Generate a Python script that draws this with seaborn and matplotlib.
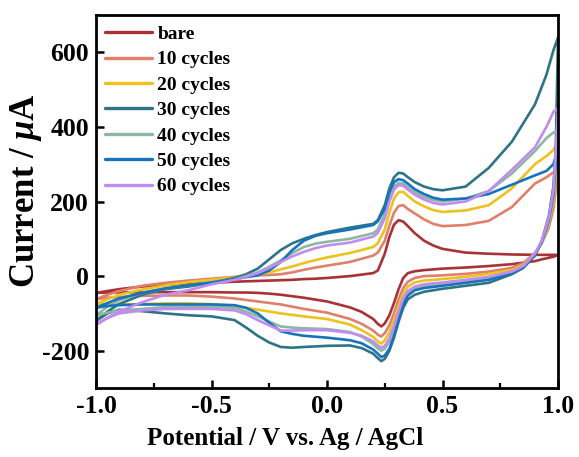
import numpy as np
import pandas as pd
import matplotlib
matplotlib.use("Agg")
import matplotlib.pyplot as plt
import seaborn as sns

# ---------------- data ----------------
x_fwd = [-1.0, -0.95, -0.9, -0.8, -0.7, -0.6, -0.5, -0.4, -0.35, -0.3, -0.25, -0.2,
         -0.15, -0.1, -0.05, 0.0, 0.1, 0.2, 0.22, 0.25, 0.27, 0.29, 0.31, 0.33, 0.35,
         0.38, 0.42, 0.46, 0.5, 0.6, 0.7, 0.8, 0.9, 0.95, 0.98, 1.0]
x_rev = [1.0, 0.99, 0.98, 0.96, 0.93, 0.9, 0.85, 0.8, 0.7, 0.6, 0.5, 0.42, 0.38, 0.35,
         0.33, 0.31, 0.29, 0.27, 0.25, 0.235, 0.22, 0.2, 0.15, 0.1, 0.0, -0.1, -0.15,
         -0.2, -0.25, -0.3, -0.35, -0.4, -0.5, -0.6, -0.7, -0.8, -0.9, -0.95, -1.0]

labels = ["bare", "10 cycles", "20 cycles", "30 cycles", "40 cycles", "50 cycles", "60 cycles"]
colors = ["#A83236", "#E0806A", "#EBC21E", "#2E7386", "#8DB7A0", "#1673BC", "#C08CF2"]

bare_fwd = [-45, -40, -35, -28, -24, -21, -18, -15, -14, -13, -12, -11, -10, -8, -7, -5,
            0, 8, 15, 60, 105, 138, 150, 146, 134, 115, 95, 82, 73, 63, 60, 58, 57, 57, 57, 57]
bare_rev = [57, 54, 52, 49, 45, 40, 36, 32, 27, 23, 20, 16, 13, 8, -5, -35, -72, -105,
            -127, -135, -128, -115, -96, -84, -68, -58, -54, -50, -47, -45, -44, -44,
            -43, -43, -43, -43, -44, -44, -45]

c10_fwd = [-62, -50, -40, -26, -18, -12, -7, -2, 0, 2, 3, 5, 10, 17, 23, 28,
           38, 55, 63, 95, 135, 170, 188, 190, 180, 168, 152, 140, 134, 137, 148, 185,
           248, 265, 278, 295]
c10_rev = [295, 230, 180, 130, 88, 62, 35, 22, 12, 6, 2, 0, -5, -15, -32, -62, -100,
           -132, -153, -162, -157, -146, -128, -115, -98, -88, -82, -76, -72, -68, -64,
           -60, -55, -52, -52, -53, -56, -58, -62]

c20_fwd = [-75, -62, -50, -36, -25, -16, -10, -3, 0, 5, 10, 18, 26, 35, 43, 50,
           62, 78, 88, 125, 170, 208, 225, 226, 215, 200, 187, 177, 172, 176, 190, 235,
           300, 322, 338, 360]
c20_rev = [360, 270, 200, 140, 90, 60, 30, 16, 6, -2, -8, -12, -17, -28, -48, -80, -118,
           -152, -172, -181, -175, -163, -145, -130, -115, -108, -104, -100, -95, -90,
           -85, -80, -75, -73, -73, -75, -76, -75, -75]

c30_fwd = [-120, -95, -75, -50, -35, -28, -18, -5, 5, 20, 45, 70, 88, 100, 110, 118,
           130, 140, 150, 190, 235, 265, 277, 275, 265, 252, 240, 233, 230, 240, 290, 360,
           460, 540, 605, 640]
c30_rev = [640, 330, 240, 160, 95, 55, 22, 5, -18, -26, -34, -42, -50, -62, -85, -122,
           -165, -200, -222, -228, -220, -208, -193, -186, -187, -190, -192, -190, -178,
           -160, -138, -118, -108, -105, -100, -94, -90, -100, -120]

c40_fwd = [-105, -82, -65, -45, -33, -25, -17, -8, 0, 10, 25, 42, 62, 78, 87, 92,
           100, 115, 125, 165, 210, 240, 250, 248, 238, 225, 212, 204, 200, 208, 228, 275,
           335, 370, 385, 390]
c40_rev = [390, 290, 210, 145, 92, 58, 26, 10, -4, -12, -20, -26, -33, -45, -65, -100,
           -140, -175, -195, -200, -194, -182, -162, -150, -142, -140, -138, -135, -122,
           -108, -95, -85, -82, -82, -83, -88, -92, -98, -105]

c50_fwd = [-85, -72, -60, -45, -33, -25, -17, -8, -3, 2, 15, 38, 70, 95, 108, 115,
           125, 137, 147, 180, 225, 252, 260, 257, 248, 233, 220, 210, 205, 208, 220, 245,
           270, 282, 300, 340]
c50_rev = [340, 300, 220, 150, 92, 56, 24, 8, -10, -18, -26, -32, -38, -52, -75, -115,
           -160, -195, -213, -217, -208, -197, -180, -172, -165, -160, -155, -148, -125,
           -100, -85, -78, -76, -76, -76, -76, -78, -80, -85]

c60_fwd = [-130, -112, -95, -70, -50, -38, -22, -10, -2, 8, 22, 38, 53, 65, 75, 82,
           90, 106, 116, 155, 200, 232, 244, 242, 232, 218, 205, 196, 192, 200, 228, 285,
           345, 400, 440, 450]
c60_rev = [450, 330, 230, 155, 95, 60, 27, 12, -2, -10, -17, -22, -28, -40, -60, -95,
           -135, -168, -187, -192, -186, -175, -160, -152, -145, -145, -146, -146, -132,
           -118, -102, -92, -88, -88, -88, -92, -100, -112, -130]

fwd_sets = [bare_fwd, c10_fwd, c20_fwd, c30_fwd, c40_fwd, c50_fwd, c60_fwd]
rev_sets = [bare_rev, c10_rev, c20_rev, c30_rev, c40_rev, c50_rev, c60_rev]

rows = []
for lab, f, r in zip(labels, fwd_sets, rev_sets):
    xs = list(x_fwd) + list(x_rev)
    ys = list(f) + list(r)
    for i, (xv, yv) in enumerate(zip(xs, ys)):
        rows.append({"E": xv, "I": yv, "sample": lab, "order": i})
df = pd.DataFrame(rows)

# ---------------- style ----------------
sns.set_style("ticks")
plt.rcParams["font.family"] = ["Liberation Serif", "DejaVu Serif"]
plt.rcParams["font.weight"] = "bold"
plt.rcParams["axes.labelweight"] = "bold"
for k in ["text.color", "axes.labelcolor", "xtick.color", "ytick.color", "axes.edgecolor"]:
    plt.rcParams[k] = "black"
plt.rcParams["mathtext.fontset"] = "custom"
plt.rcParams["mathtext.rm"] = "Liberation Serif:bold"
plt.rcParams["mathtext.it"] = "Liberation Serif:bold:italic"

fig = plt.figure(figsize=(5.79, 4.57), dpi=100)
ax = fig.add_axes([96 / 579, 69 / 457, 462 / 579, 373 / 457])

sns.lineplot(data=df, x="E", y="I", hue="sample", hue_order=labels,
             palette=colors, sort=False, estimator=None, units="sample",
             lw=1.9, ax=ax, legend=True)
for ln in ax.get_lines():
    ln.set_solid_joinstyle("round")
    ln.set_solid_capstyle("round")

ax.set_xlim(-1.0, 1.0)
ax.set_ylim(-300, 700)
ax.set_xticks([-1.0, -0.5, 0.0, 0.5, 1.0])
ax.set_xticklabels(["-1.0", "-0.5", "0.0", "0.5", "1.0"])
ax.set_xticks([-0.75, -0.25, 0.25, 0.75], minor=True)
ax.set_yticks([-200, 0, 200, 400, 600])
ax.set_yticklabels(["-200", "0", "200", "400", "600"])

ax.tick_params(axis="both", which="major", direction="in", length=6, width=1.8,
               labelsize=18.5, top=False, right=False, pad=5, colors="black")
ax.tick_params(axis="x", which="minor", direction="in", length=3.5, width=1.6,
               top=False, colors="black")
for s in ax.spines.values():
    s.set_linewidth(2.0)
    s.set_color("black")
    s.set_visible(True)

ax.set_xlabel("Potential / V vs. Ag / AgCl", fontsize=18, fontweight="bold")
ax.set_ylabel("Current / $\\mathit{\\mu}$A", fontsize=25, fontweight="bold")
ax.xaxis.set_label_coords(0.409, -0.105)
ax.yaxis.set_label_coords(-0.112, 0.528)

leg = ax.legend(loc="upper left", bbox_to_anchor=(-0.008, 1.006), frameon=False,
                fontsize=14, handlelength=2.4, handletextpad=0.3,
                labelspacing=0.40, borderaxespad=0.35, borderpad=0.3)
for t in leg.get_texts():
    t.set_fontweight("bold")
    t.set_color("black")
for h in leg.get_lines():
    h.set_linewidth(2.4)

fig.savefig("out.png", dpi=100)
